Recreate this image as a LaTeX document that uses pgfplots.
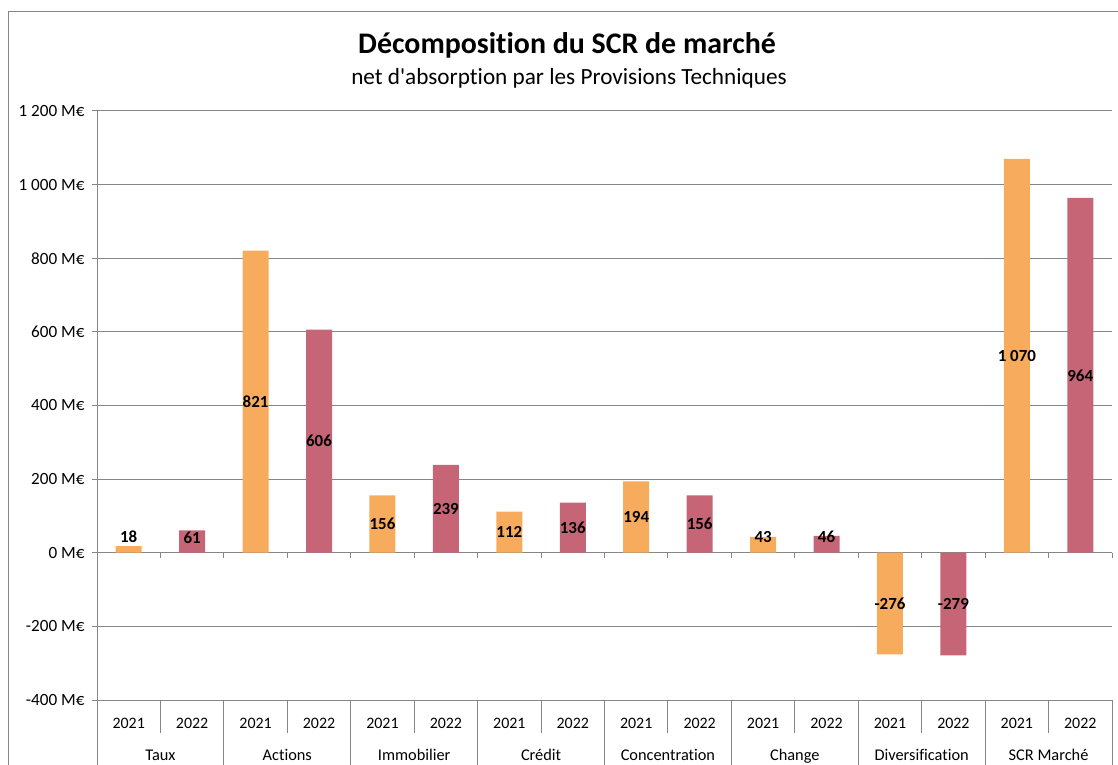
\documentclass[border=0pt]{standalone}
\usepackage{pgfplots}
\pgfplotsset{compat=1.18}
\usepackage{fontspec}
\setmainfont{Carlito}[Ligatures={TeX,NoCommon}]
\definecolor{c21}{RGB}{247,172,93}
\definecolor{c22}{RGB}{198,101,117}
\definecolor{gridc}{RGB}{134,134,134}

\begin{document}
\begin{tikzpicture}
\useasboundingbox (0bp,0bp) rectangle (1118bp,765bp);
\draw[gridc, line width=1bp] (8bp,0bp) -- (8bp,753bp) -- (1118bp,753bp);
\node[anchor=base, font=\fontsize{30}{35}\selectfont\bfseries, inner sep=0pt] at (567bp,711bp) {Décomposition du SCR de marché};
\node[anchor=base, font=\fontsize{23.3}{28}\selectfont, inner sep=0pt] at (569bp,680bp) {net d\textquotesingle absorption par les Provisions Techniques};
\begin{axis}[
  at={(97bp,65bp)}, anchor=south west,
  scale only axis, width=1015bp, height=589bp,
  xmin=-0.5, xmax=15.5, ymin=-400, ymax=1200,
  axis x line*=bottom, axis y line*=left,
  axis line style={gridc, line width=1bp},
  xtick=\empty,
  ytick={-400,-200,...,1200},
  ymajorgrids, major grid style={gridc, line width=1bp},
  tick align=outside, major tick length=5bp,
  ytick style={gridc, line width=1bp},
  yticklabel={\pgfmathprintnumber[assume math mode=true,1000 sep={\ }]{\tick}~M€},
  yticklabel style={font=\fontsize{17.2}{20}\selectfont, xshift=-4bp},
  clip=false,
]
\addplot[ybar, bar width=26bp, bar shift=0pt, fill=c21, draw=none]
  coordinates {(0,18) (2,821) (4,156) (6,112) (8,194) (10,43) (12,-276) (14,1070)};
\addplot[ybar, bar width=26bp, bar shift=0pt, fill=c22, draw=none]
  coordinates {(1,61) (3,606) (5,239) (7,136) (9,156) (11,46) (13,-279) (15,964)};
% value labels (y = label position, v = value)
\addplot[draw=none, mark=none, nodes near coords, point meta=explicit,
  every node near coord/.style={anchor=center, inner sep=0pt, font=\fontsize{17}{20}\selectfont\bfseries,
    /pgf/number format/assume math mode=true, /pgf/number format/1000 sep={\ }}]
  table[x=x, y=y, meta=v] {
x y v
0 43 18
1 42 61
2 410.5 821
3 303 606
4 78 156
5 119.5 239
6 56 112
7 68 136
8 97 194
9 78 156
10 43 43
11 43 46
12 -138 -276
13 -139.5 -279
14 535 1070
15 482 964
};
% category table lines
\pgfplotsinvokeforeach{-0.5,1.5,3.5,5.5,7.5,9.5,11.5,13.5,15.5}{
  \draw[gridc, line width=1bp] (axis cs:#1,-400) -- ++(0bp,-66bp);
}
\pgfplotsinvokeforeach{0.5,2.5,4.5,6.5,8.5,10.5,12.5,14.5}{
  \draw[gridc, line width=1bp] (axis cs:#1,-400) -- ++(0bp,-33bp);
}
% ticks on the zero line
\pgfplotsinvokeforeach{-0.5,0.5,1.5,2.5,3.5,4.5,5.5,6.5,7.5,8.5,9.5,10.5,11.5,12.5,13.5,14.5,15.5}{
  \draw[gridc, line width=1bp] (axis cs:#1,0) -- ++(0bp,-5bp);
}
% year labels
\pgfplotsinvokeforeach{0,2,4,6,8,10,12,14}{
  \node[anchor=base, font=\fontsize{16}{19}\selectfont, inner sep=0pt, yshift=-28.5bp] at (axis cs:#1,-400) {2021};
}
\pgfplotsinvokeforeach{1,3,5,7,9,11,13,15}{
  \node[anchor=base, font=\fontsize{16}{19}\selectfont, inner sep=0pt, yshift=-28.5bp] at (axis cs:#1,-400) {2022};
}
% category labels
\node[anchor=base, font=\fontsize{16.4}{19}\selectfont, inner sep=0pt, yshift=-60bp] at (axis cs:0.5,-400) {Taux};
\node[anchor=base, font=\fontsize{16.4}{19}\selectfont, inner sep=0pt, yshift=-60bp] at (axis cs:2.5,-400) {Actions};
\node[anchor=base, font=\fontsize{16.4}{19}\selectfont, inner sep=0pt, yshift=-60bp] at (axis cs:4.5,-400) {Immobilier};
\node[anchor=base, font=\fontsize{16.4}{19}\selectfont, inner sep=0pt, yshift=-60bp] at (axis cs:6.5,-400) {Crédit};
\node[anchor=base, font=\fontsize{16.4}{19}\selectfont, inner sep=0pt, yshift=-60bp] at (axis cs:8.5,-400) {Concentration};
\node[anchor=base, font=\fontsize{16.4}{19}\selectfont, inner sep=0pt, yshift=-60bp] at (axis cs:10.5,-400) {Change};
\node[anchor=base, font=\fontsize{16.4}{19}\selectfont, inner sep=0pt, yshift=-60bp] at (axis cs:12.5,-400) {Diversification};
\node[anchor=base, font=\fontsize{16.4}{19}\selectfont, inner sep=0pt, yshift=-60bp] at (axis cs:14.5,-400) {SCR Marché};
\end{axis}
\end{tikzpicture}
\end{document}
